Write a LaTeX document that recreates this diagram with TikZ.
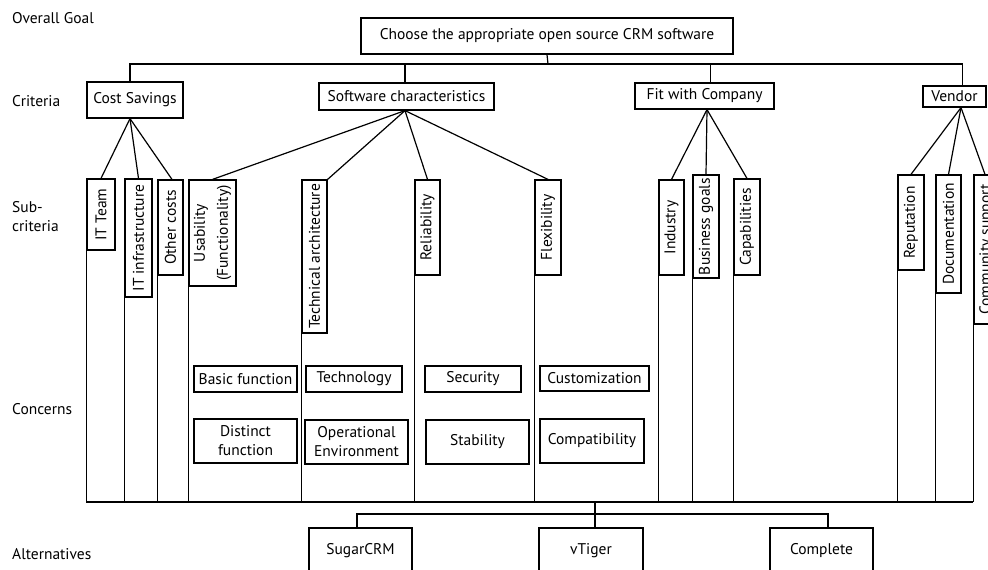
\documentclass[tikz,border=0pt]{standalone}
\usepackage{fontspec}
\setmainfont{PT Sans}
\newcommand\dfont{\fontsize{15.5}{19}\selectfont}
\begin{document}
\begin{tikzpicture}[x=1pt,y=-1pt,
  box/.style={draw, line width=1.2pt, inner sep=0pt, align=center, font=\dfont},
  vbox/.style={box, rotate=90},
  lbl/.style={anchor=west, inner sep=0pt, align=left, font=\dfont},
  conn/.style={line width=1.2pt}]
\useasboundingbox[fill=white] (0,0) rectangle (988,570);
% level labels
\node[lbl] (l1) at (12,18) {Overall Goal};
\node[lbl] (l2) at (12,101) {Criteria};
\node[lbl] (l3) at (12,217) {Sub-\\criteria};
\node[lbl] (l4) at (12,409) {Concerns};
\node[lbl] (l5) at (12,554) {Alternatives};
% goal
\node[box, minimum width=372pt, minimum height=36pt] (goal) at (547,36) {Choose the appropriate open source CRM software};
% criteria
\node[box, minimum width=96pt, minimum height=36pt] (cs) at (135,100) {Cost Savings};
\node[box, minimum width=175pt, minimum height=27pt] (sc) at (406.5,96.5) {Software characteristics};
\node[box, minimum width=139pt, minimum height=26pt] (fc) at (704.5,96) {Fit with Company};
\node[box, minimum width=63pt, minimum height=21pt] (vd) at (954.5,96.5) {Vendor};
% sub-criteria
\node[vbox, minimum width=71pt, minimum height=28pt] (s1) at (101,214.5) {IT Team};
\node[vbox, minimum width=118pt, minimum height=27pt] (s2) at (138.5,238) {IT infrastructure};
\node[vbox, minimum width=95pt, minimum height=25pt] (s3) at (170.5,227.5) {Other costs};
\node[vbox, minimum width=106pt, minimum height=47pt] (s4) at (212.5,233) {Usability\\[4pt](Functionality)};
\node[vbox, minimum width=153pt, minimum height=25pt] (s5) at (314.5,256.5) {Technical architecture};
\node[vbox, minimum width=95pt, minimum height=25pt] (s6) at (427.5,227.5) {Reliability};
\node[vbox, minimum width=95pt, minimum height=26pt] (s7) at (548,227.5) {Flexibility};
\node[vbox, minimum width=95pt, minimum height=25pt] (s8) at (671.5,227.5) {Industry};
\node[vbox, minimum width=103pt, minimum height=26pt] (s9) at (706,226.5) {Business goals};
\node[vbox, minimum width=96pt, minimum height=26pt] (s10) at (747,227) {Capabilities};
\node[vbox, minimum width=95pt, minimum height=26pt] (s11) at (911,222.5) {Reputation};
\node[vbox, minimum width=118pt, minimum height=25pt] (s12) at (948.5,234) {Documentation};
\node[vbox, minimum width=149pt, minimum height=25pt] (s13) at (986.5,249.5) {Community support};
% concerns
\node[box, minimum width=103pt, minimum height=26pt] (c1) at (245.5,379) {Basic function};
\node[box, minimum width=96pt, minimum height=26pt] (c2) at (354,379) {Technology};
\node[box, minimum width=96pt, minimum height=26pt] (c3) at (473,379) {Security};
\node[box, minimum width=109pt, minimum height=25pt] (c4) at (594.5,378.5) {Customization};
\node[box, minimum width=103pt, minimum height=44pt] (c5) at (245.5,441) {Distinct\\function};
\node[box, minimum width=103pt, minimum height=44pt] (c6) at (356.5,442) {Operational\\Environment};
\node[box, minimum width=103pt, minimum height=44pt] (c7) at (477.5,442) {Stability};
\node[box, minimum width=104pt, minimum height=44pt] (c8) at (592,441) {Compatibility};
% alternatives
\node[box, minimum width=103pt, minimum height=46pt] (a1) at (360.5,551) {SugarCRM};
\node[box, minimum width=104pt, minimum height=46pt] (a2) at (591,551) {vTiger};
\node[box, minimum width=103pt, minimum height=46pt] (a3) at (821.5,551) {Complete};
% junctions
\coordinate (top) at (548,64);
\coordinate (base) at (595,502);
\coordinate (alt) at (595,514);
% goal to criteria
\draw[conn] (goal.south) -- (top);
\draw[conn] ([xshift=-5pt]cs.north) |- (top) -| ([xshift=8pt]vd.north);
\draw[conn] ([xshift=-1.5pt]sc.north) -- ([xshift=-1.5pt]sc.north |- top);
\draw[conn] ([xshift=6pt]fc.north) -- ([xshift=6pt]fc.north |- top);
% criteria to sub-criteria
\draw[conn] ([xshift=-5pt]cs.south) -- (s1.east);
\draw[conn] ([xshift=-5pt]cs.south) -- (s2.east);
\draw[conn] ([xshift=-5pt]cs.south) -- ([xshift=1.5pt]s3.east);
\draw[conn] ([xshift=-1.5pt]sc.south) -- (s4.east);
\draw[conn] ([xshift=-1.5pt]sc.south) -- (s5.south east);
\draw[conn] ([xshift=-1.5pt]sc.south) -- (s6.east);
\draw[conn] ([xshift=-1.5pt]sc.south) -- (s7.east);
\draw[conn] ([xshift=2.5pt]fc.south) -- (s8.east);
\draw[conn] ([xshift=2.5pt]fc.south) -- (s9.east);
\draw[conn] ([xshift=2.5pt]fc.south) -- (s10.east);
\draw[conn] ([xshift=6.5pt]vd.south) -- (s11.east);
\draw[conn] ([xshift=6.5pt]vd.south) -- (s12.east);
\draw[conn] ([xshift=6.5pt]vd.south) -- ([xshift=-1.5pt]s13.east);
% verticals to base
\foreach \n in {s1,s2,s3,s4,s5,s6,s7,s8,s9,s10,s11,s12,s13}
  \draw[conn] (\n.north west) -- (\n.north west |- base);
\draw[conn] (s1.north west |- base) -- (s13.north west |- base);
% base to alternatives
\draw[conn] (base) -- ([xshift=4pt]a2.north);
\draw[conn] ([xshift=-3.5pt]a1.north) |- (alt) -| ([xshift=6.5pt]a3.north);
\end{tikzpicture}
\end{document}
